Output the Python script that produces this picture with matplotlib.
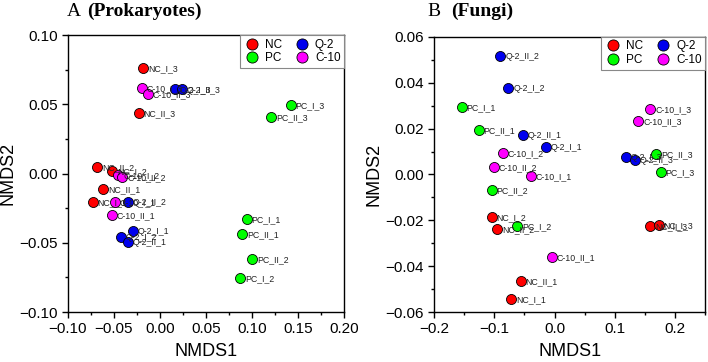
import matplotlib.pyplot as plt
from matplotlib.lines import Line2D
from matplotlib.ticker import MultipleLocator

plt.rcParams['font.family'] = ['Liberation Sans', 'DejaVu Sans']

groups = ["NC", "PC", "Q-2", "C-10"]
colors = {"NC": "#ff0000", "PC": "#00ff00", "Q-2": "#0000ee", "C-10": "#ff00ff"}

# panel A (Prokaryotes)
a_nc_names = ["NC_I_3", "NC_II_3", "NC_II_2", "NC_I_2", "NC_II_1", "NC_I_1"]
a_nc_x = [-0.018, -0.023, -0.068, -0.052, -0.062, -0.073]
a_nc_y = [0.076, 0.044, 0.0045, 0.002, -0.0114, -0.0203]

a_pc_names = ["PC_I_3", "PC_II_3", "PC_I_1", "PC_II_1", "PC_II_2", "PC_I_2"]
a_pc_x = [0.142, 0.121, 0.094, 0.089, 0.100, 0.087]
a_pc_y = [0.0495, 0.0406, -0.0329, -0.0439, -0.062, -0.0757]

a_q2_names = ["Q-2_I_3", "Q-2_II_3", "Q-2_II_2", "Q-2_I_1", "Q-2_I_2", "Q-2_II_1"]
a_q2_x = [0.016, 0.0236, -0.0345, -0.0298, -0.0427, -0.0345]
a_q2_y = [0.0608, 0.0608, -0.0203, -0.0413, -0.0456, -0.0492]

a_c10_names = ["C-10_I_3", "C-10_II_3", "C-10_I_2", "C-10_II_2", "C-10_I_1", "C-10_II_1"]
a_c10_x = [-0.020, -0.0134, -0.0453, -0.041, -0.0489, -0.0525]
a_c10_y = [0.0615, 0.0572, -0.001, -0.0027, -0.0208, -0.030]

# panel B (Fungi)
b_nc_names = ["NC_I_2", "NC_II_2", "NC_II_1", "NC_I_1", "NC_II_3", "NC_I_3"]
b_nc_x = [-0.104, -0.095, -0.056, -0.072, 0.159, 0.173]
b_nc_y = [-0.0186, -0.0239, -0.0463, -0.0544, -0.0225, -0.022]

b_pc_names = ["PC_I_1", "PC_II_1", "PC_II_2", "PC_I_2", "PC_II_3", "PC_I_3"]
b_pc_x = [-0.154, -0.126, -0.104, -0.062, 0.169, 0.176]
b_pc_y = [0.0296, 0.0194, -0.0067, -0.0225, 0.0089, 0.001]

b_q2_names = ["Q-2_II_2", "Q-2_I_2", "Q-2_II_1", "Q-2_I_1", "Q-2_I_3", "Q-2_II_3"]
b_q2_x = [-0.090, -0.0765, -0.053, -0.0145, 0.119, 0.1336]
b_q2_y = [0.0518, 0.0379, 0.0172, 0.0119, 0.0078, 0.0064]

b_c10_names = ["C-10_I_2", "C-10_II_2", "C-10_I_1", "C-10_I_3", "C-10_II_3", "C-10_II_1"]
b_c10_x = [-0.086, -0.101, -0.039, 0.159, 0.139, -0.004]
b_c10_y = [0.0093, 0.0033, -0.0006, 0.0285, 0.0234, -0.0362]

panel_a = {
    "NC": (a_nc_x, a_nc_y, a_nc_names),
    "PC": (a_pc_x, a_pc_y, a_pc_names),
    "Q-2": (a_q2_x, a_q2_y, a_q2_names),
    "C-10": (a_c10_x, a_c10_y, a_c10_names),
}
panel_b = {
    "NC": (b_nc_x, b_nc_y, b_nc_names),
    "PC": (b_pc_x, b_pc_y, b_pc_names),
    "Q-2": (b_q2_x, b_q2_y, b_q2_names),
    "C-10": (b_c10_x, b_c10_y, b_c10_names),
}

fig = plt.figure(figsize=(7.08, 3.62), dpi=100)
ax1 = fig.add_axes([0.096, 0.138, 0.390, 0.765])
ax2 = fig.add_axes([0.613, 0.138, 0.383, 0.760])


def draw(ax, data):
    for g in groups:
        xs, ys, names = data[g]
        ax.scatter(xs, ys, s=52, c=colors[g], edgecolors="black", linewidths=0.6, zorder=3)
        for x, y, n in zip(xs, ys, names):
            ax.annotate(n, (x, y), xytext=(3.5, -0.5), textcoords="offset points",
                        fontsize=6.3, va="center", ha="left", color="#222222", zorder=4)
    handles = [Line2D([], [], ls="", marker="o", markersize=8, markerfacecolor=colors[g],
                      markeredgecolor="black", markeredgewidth=0.6, label=g) for g in groups]
    leg = ax.legend(handles=handles, ncol=2, loc="upper right", borderaxespad=0,
                    fontsize=8.5, handletextpad=0.4, columnspacing=1.0, labelspacing=0.15,
                    borderpad=0.3, fancybox=False, framealpha=1, handlelength=1.4)
    leg.get_frame().set_edgecolor("#888888")
    leg.get_frame().set_linewidth(0.8)
    ax.set_xlabel("NMDS1", fontsize=13)
    ax.set_ylabel("NMDS2", fontsize=13)
    ax.tick_params(direction="out", length=4, width=1, labelsize=11)
    ax.tick_params(which="minor", direction="out", length=2.5, width=1)
    for sp in ax.spines.values():
        sp.set_linewidth(1)


draw(ax1, panel_a)
ax1.set_xlim(-0.10, 0.20)
ax1.set_ylim(-0.10, 0.10)
ax1.xaxis.set_major_locator(MultipleLocator(0.05))
ax1.xaxis.set_minor_locator(MultipleLocator(0.025))
ax1.yaxis.set_major_locator(MultipleLocator(0.05))
ax1.yaxis.set_minor_locator(MultipleLocator(0.025))
ax1.xaxis.set_major_formatter(lambda v, p: f"{v:.2f}".replace("-", "\u2212"))
ax1.yaxis.set_major_formatter(lambda v, p: f"{v:.2f}".replace("-", "\u2212"))
ax1.xaxis.labelpad = 5
ax1.yaxis.labelpad = 2

draw(ax2, panel_b)
ax2.set_xlim(-0.2, 0.25)
ax2.set_ylim(-0.06, 0.06)
ax2.xaxis.set_major_locator(MultipleLocator(0.1))
ax2.xaxis.set_minor_locator(MultipleLocator(0.05))
ax2.yaxis.set_major_locator(MultipleLocator(0.02))
ax2.yaxis.set_minor_locator(MultipleLocator(0.01))
ax2.xaxis.set_major_formatter(lambda v, p: f"{v:.1f}".replace("-", "\u2212"))
ax2.yaxis.set_major_formatter(lambda v, p: f"{v:.2f}".replace("-", "\u2212"))
ax2.xaxis.labelpad = 5
ax2.yaxis.labelpad = 2

serif = ["Liberation Serif", "DejaVu Serif"]
fig.text(67 / 708, 1 - 16 / 362, "A", family=serif, fontsize=14)
fig.text(87 / 708, 1 - 16 / 362, "(Prokaryotes)", family=serif, fontsize=14, weight="bold")
fig.text(427 / 708, 1 - 16 / 362, "B", family=serif, fontsize=14)
fig.text(451 / 708, 1 - 16 / 362, "(Fungi)", family=serif, fontsize=14, weight="bold")

fig.savefig("out.png", dpi=100)
